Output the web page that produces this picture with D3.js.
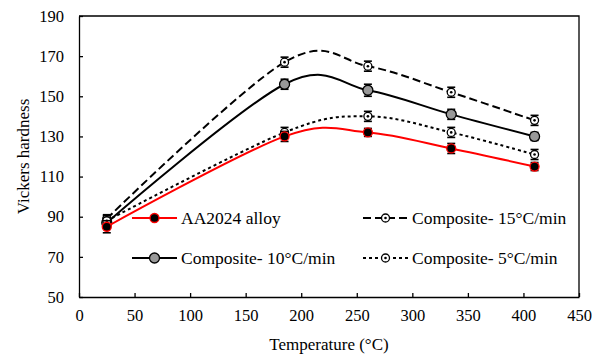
<!DOCTYPE html>
<html>
<head>
<meta charset="utf-8">
<script src="https://cdn.jsdelivr.net/npm/d3@7"></script>
<style>
  body { margin: 0; background: #fff; }
  svg text { font-family: "Liberation Serif", "Times New Roman", Times, "DejaVu Serif", serif !important; }
</style>
</head>
<body>
<div id="chart"></div>
<script>
var temps = [25, 185, 260, 335, 410];
var alloy = [85, 130, 132, 124, 115];
var comp10 = [87, 156, 153, 141, 130];
var comp15 = [89, 167, 165, 152, 138];
var comp5 = [88, 132, 140, 132, 121];
var alloyErr = [3, 2.5, 2, 2.5, 2];
var comp10Err = [2.5, 2.5, 3, 2.5, 2];
var comp15Err = [2, 2.5, 2.5, 2.5, 2.5];
var comp5Err = [2.5, 2.5, 2.5, 2.5, 2.5];
var xTicks = [0, 50, 100, 150, 200, 250, 300, 350, 400, 450];
var yTicks = [50, 70, 90, 110, 130, 150, 170, 190];

var width = 600, height = 355;
var margin = {top: 16, right: 21, bottom: 58, left: 79};
var serif = '"Liberation Serif", "Times New Roman", Times, "DejaVu Serif", serif';

var svg = d3.select('#chart').append('svg')
  .attr('width', width)
  .attr('height', height)
  .attr('font-family', serif);

var x = d3.scaleLinear().domain([0, 450]).range([margin.left, width - margin.right]);
var y = d3.scaleLinear().domain([50, 190]).range([height - margin.bottom, margin.top]);

// axes, ticks inside
svg.append('g')
  .attr('transform', 'translate(0,' + (height - margin.bottom) + ')')
  .call(d3.axisBottom(x).tickValues(xTicks).tickSizeInner(-4).tickSizeOuter(0).tickPadding(12))
  .attr('font-family', serif)
  .call(g => g.selectAll('text').attr('font-size', 16.5).attr('fill', '#000'))
  .call(g => g.selectAll('line, path').attr('stroke', '#000').attr('stroke-width', 1.3));

svg.append('g')
  .attr('transform', 'translate(' + margin.left + ',0)')
  .call(d3.axisLeft(y).tickValues(yTicks).tickSizeInner(-4).tickSizeOuter(0).tickPadding(15))
  .attr('font-family', serif)
  .call(g => g.selectAll('text').attr('font-size', 16.5).attr('fill', '#000'))
  .call(g => g.selectAll('line, path').attr('stroke', '#000').attr('stroke-width', 1.3));

// frame top and right
svg.append('path')
  .attr('d', 'M' + margin.left + ',' + margin.top + 'H' + (width - margin.right) + 'V' + (height - margin.bottom))
  .attr('fill', 'none').attr('stroke', '#000').attr('stroke-width', 1.3);

svg.append('text')
  .attr('transform', 'translate(23,' + ((margin.top + height - margin.bottom) / 2) + ') rotate(-90)')
  .attr('text-anchor', 'middle')
  .attr('dominant-baseline', 'central')
  .attr('font-size', 17)
  .text('Vickers hardness');

svg.append('text')
  .attr('x', (margin.left + width - margin.right) / 2)
  .attr('y', 350)
  .attr('text-anchor', 'middle')
  .attr('font-size', 17)
  .text('Temperature (°C)');

var series = [
  {name: 'Composite- 15°C/min', vals: comp15, err: comp15Err, color: '#000', dash: '8,4', fill: '#fff', r: 4, dot: true},
  {name: 'Composite- 10°C/min', vals: comp10, err: comp10Err, color: '#000', dash: null, fill: '#999', r: 5, dot: false},
  {name: 'Composite- 5°C/min', vals: comp5, err: comp5Err, color: '#000', dash: '3,3', fill: '#fff', r: 4, dot: true},
  {name: 'AA2024 alloy', vals: alloy, err: alloyErr, color: '#ff0000', dash: null, fill: '#000', r: 4.5, dot: false}
];

var line = d3.line()
  .x(d => x(d[0]))
  .y(d => y(d[1]))
  .curve(d3.curveCardinal.tension(0));

series.forEach(function(s) {
  var pts = temps.map((t, i) => [t, s.vals[i], s.err[i]]);
  svg.append('path')
    .datum(pts)
    .attr('d', line)
    .attr('fill', 'none')
    .attr('stroke', s.color)
    .attr('stroke-width', 2)
    .attr('stroke-dasharray', s.dash);

  var eb = svg.append('g').selectAll('g').data(pts).enter().append('g');
  eb.append('line')
    .attr('x1', d => x(d[0])).attr('x2', d => x(d[0]))
    .attr('y1', d => y(d[1] - d[2])).attr('y2', d => y(d[1] + d[2]))
    .attr('stroke', '#000').attr('stroke-width', 1.6);
  eb.append('line')
    .attr('x1', d => x(d[0]) - 4).attr('x2', d => x(d[0]) + 4)
    .attr('y1', d => y(d[1] - d[2])).attr('y2', d => y(d[1] - d[2]))
    .attr('stroke', '#000').attr('stroke-width', 1.6);
  eb.append('line')
    .attr('x1', d => x(d[0]) - 4).attr('x2', d => x(d[0]) + 4)
    .attr('y1', d => y(d[1] + d[2])).attr('y2', d => y(d[1] + d[2]))
    .attr('stroke', '#000').attr('stroke-width', 1.6);
  eb.append('circle')
    .attr('cx', d => x(d[0])).attr('cy', d => y(d[1]))
    .attr('r', s.r)
    .attr('fill', s.fill)
    .attr('stroke', s.color)
    .attr('stroke-width', 1.3);
  if (s.dot) {
    eb.append('circle')
      .attr('cx', d => x(d[0])).attr('cy', d => y(d[1]))
      .attr('r', 1.3).attr('fill', '#000');
  }
});

// legend
var legendItems = [
  {s: series[3], lx: 132, ly: 218},
  {s: series[0], lx: 363, ly: 218},
  {s: series[1], lx: 132, ly: 258},
  {s: series[2], lx: 363, ly: 258}
];
legendItems.forEach(function(it) {
  var s = it.s;
  var g = svg.append('g');
  var len = 45;
  g.append('line')
    .attr('x1', it.lx).attr('x2', it.lx + len)
    .attr('y1', it.ly).attr('y2', it.ly)
    .attr('stroke', s.color).attr('stroke-width', 2.2)
    .attr('stroke-dasharray', s.dash);
  g.append('circle')
    .attr('cx', it.lx + len / 2).attr('cy', it.ly)
    .attr('r', s.r).attr('fill', s.fill).attr('stroke', s.color).attr('stroke-width', 1.3);
  if (s.dot) {
    g.append('circle').attr('cx', it.lx + len / 2).attr('cy', it.ly).attr('r', 1.3).attr('fill', '#000');
  }
  g.append('text')
    .attr('x', it.lx + len + 4)
    .attr('y', it.ly)
    .attr('dominant-baseline', 'central')
    .attr('font-size', 17.5)
    .text(s.name);
});
</script>
</body>
</html>
